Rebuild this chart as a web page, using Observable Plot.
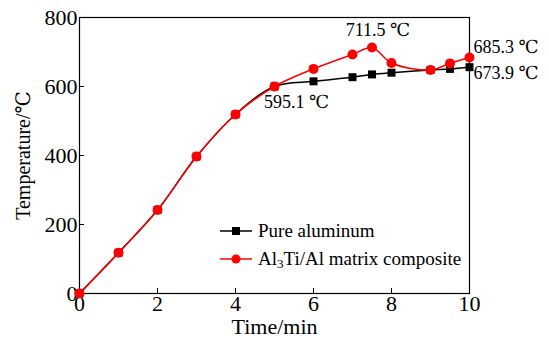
<!DOCTYPE html>
<html><head><meta charset="utf-8">
<script src="https://cdn.jsdelivr.net/npm/d3@7"></script>
<script src="https://cdn.jsdelivr.net/npm/@observablehq/plot@0.6"></script>
<style>
body{margin:0;background:#fff;font-family:"Liberation Serif","DejaVu Serif",serif;}
#wrap{position:relative;width:549px;height:343px;}
#legend{position:absolute;left:219px;top:217px;font-size:19px;color:#000;line-height:28px;}
#legend div{display:flex;align-items:center;white-space:nowrap;}
#legend svg{margin-right:5px;}
</style></head>
<body><div id="wrap"><div id="chart"></div>
<div id="legend">
<div><svg width="34" height="14"><line x1="1" y1="7" x2="33" y2="7" stroke="#000" stroke-width="1.5"/><rect x="13" y="3" width="8" height="8" fill="#000"/></svg>Pure aluminum</div>
<div><svg width="34" height="14"><line x1="1" y1="7" x2="33" y2="7" stroke="#ff0000" stroke-width="1.5"/><circle cx="17" cy="7" r="4.5" fill="#ff0000"/></svg>Al<span style="font-size:13px;position:relative;top:5px">3</span>Ti/Al matrix composite</div>
</div></div>
<script>
const time = [0,1,2,3,4,5,6,7,7.5,8,9,9.5,10];
const pureAl = [0,118,242,397,519,600,615,627,635,640,648,651,656];
const composite = [0,118,242,397,519,600,651,693,713,668,648,667,684];
const xTicks = [0,2,4,6,8,10];
const yTicks = [0,200,400,600,800];
const notes = [
  {t:7.5, v:713, label:"711.5 ℃", dx:6, dy:-17, anchor:"middle"},
  {t:10, v:684, label:"685.3 ℃", dx:4, dy:-10, anchor:"start"},
  {t:10, v:656, label:"673.9 ℃", dx:4, dy:6, anchor:"start"},
  {t:5, v:600, label:"595.1 ℃", dx:22, dy:16, anchor:"middle"}
];
const pure = time.map((t,i)=>({t, v:pureAl[i]}));
const comp = time.map((t,i)=>({t, v:composite[i]}));

const chart = Plot.plot({
  width:549, height:343,
  marginLeft:79, marginRight:80, marginTop:17, marginBottom:50,
  style:{fontFamily:"Liberation Serif, DejaVu Serif, serif", background:"#fff", overflow:"visible"},
  x:{domain:[0,10]},
  y:{domain:[0,800]},
  marks:[
    Plot.frame({stroke:"#000", strokeWidth:1.2}),
    Plot.axisX({ticks:xTicks, tickSize:-5, tickPadding:7, fontSize:22, label:null, stroke:"#000"}),
    Plot.axisY({ticks:yTicks, tickSize:-5, tickPadding:7, fontSize:22, label:null, stroke:"#000"}),
    Plot.text(["Time/min"], {frameAnchor:"bottom", dy:40, fontSize:22, fill:"#000"}),
    Plot.text(["Temperature/℃"], {frameAnchor:"left", dx:-56, rotate:-90, textAnchor:"middle", fontSize:20, fill:"#000"}),
    Plot.line(pure, {x:"t", y:"v", stroke:"#000", strokeWidth:1.5, curve:"catmull-rom"}),
    Plot.dot(pure, {x:"t", y:"v", symbol:"square", fill:"#000", r:4.5}),
    Plot.line(comp, {x:"t", y:"v", stroke:"#ff0000", strokeWidth:1.5, curve:"catmull-rom"}),
    Plot.dot(comp, {x:"t", y:"v", symbol:"circle", fill:"#ff0000", r:5}),
    ...notes.map(n => Plot.text([n], {x:"t", y:"v", text:"label", dx:n.dx, dy:n.dy, textAnchor:n.anchor, fontSize:18, fill:"#000"}))
  ]
});
document.getElementById("chart").append(chart);
</script></body></html>
